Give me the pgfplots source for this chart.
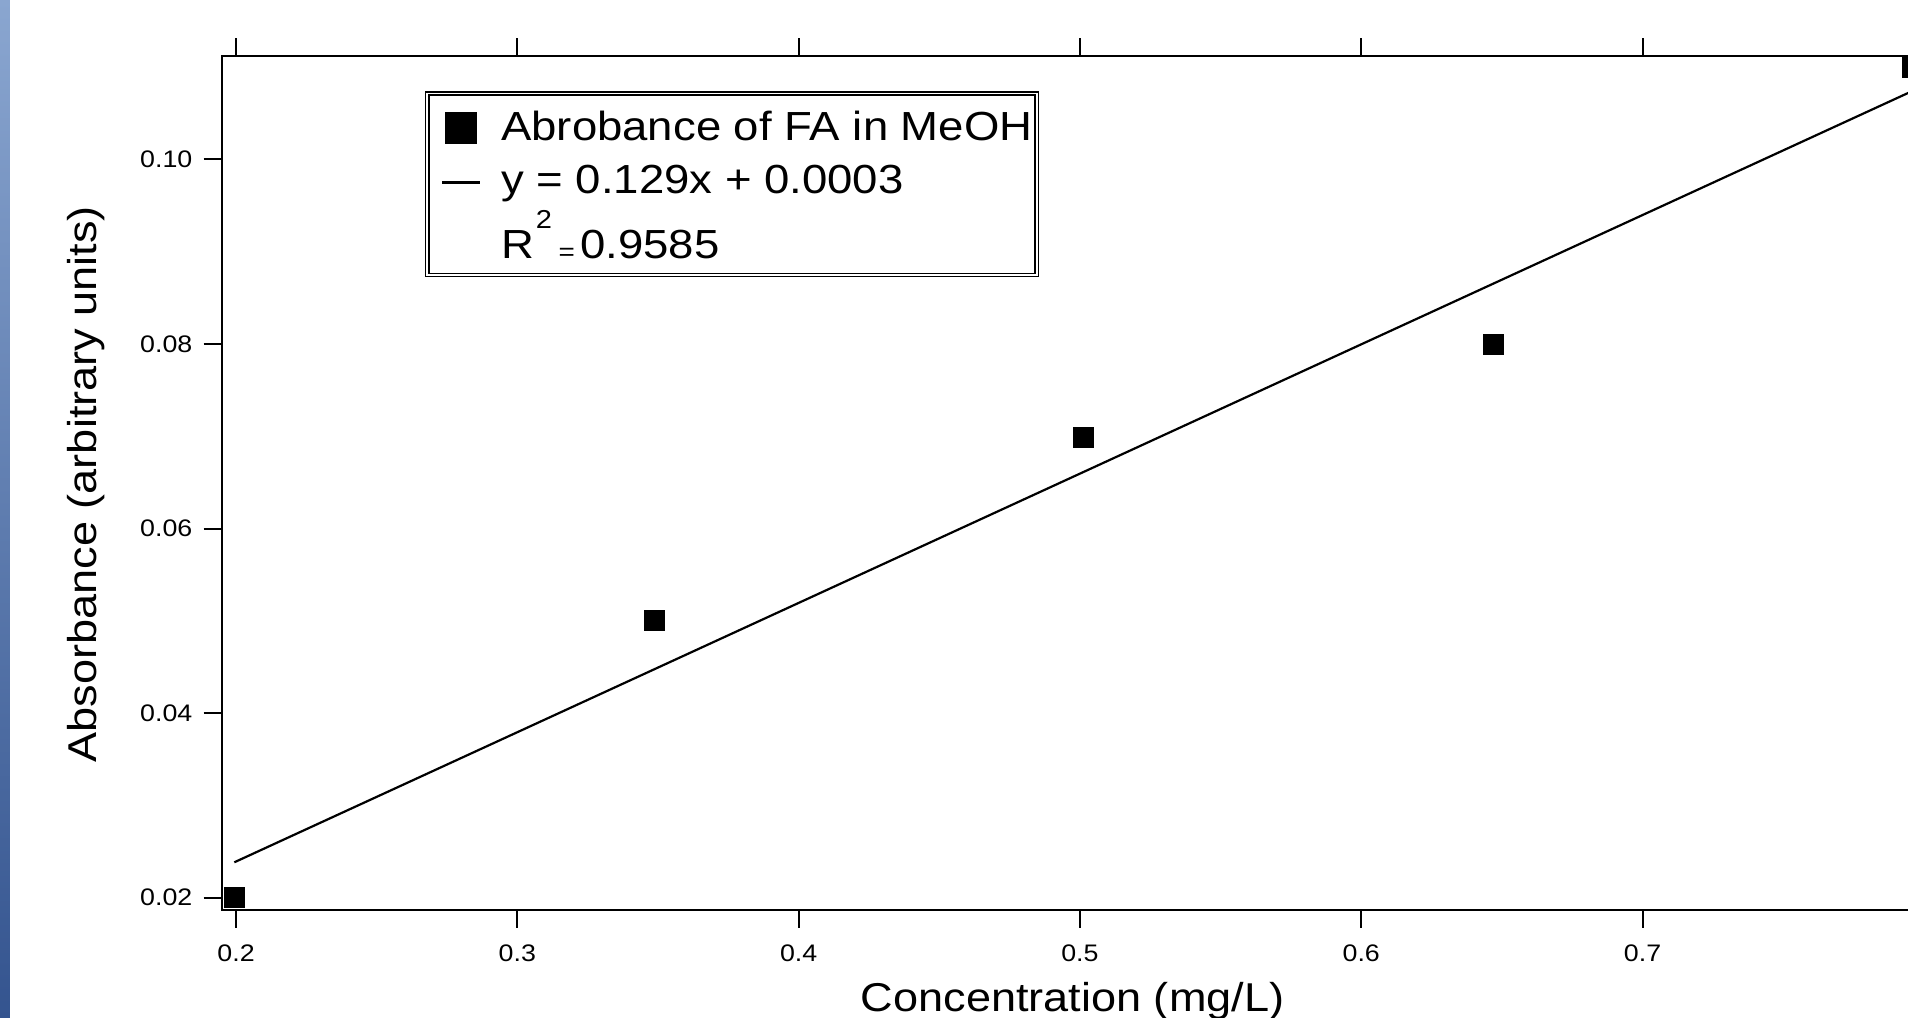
\documentclass[border=0pt]{standalone}
\usepackage{fontspec}
\setmainfont{Liberation Sans}[FakeStretch=1.12]
\usepackage{pgfplots}
\pgfplotsset{compat=1.18}
\definecolor{stripTop}{RGB}{138,166,208}
\definecolor{stripBot}{RGB}{52,84,143}
\newcommand{\legstrut}[2]{\rule[-#2]{0pt}{\dimexpr#1+#2\relax}}
\begin{document}
\begin{tikzpicture}
\begin{axis}[
  at={(0,0)}, anchor=south west,
  scale only axis, width=879.2bp, height=427bp,
  xmin=0.1949, xmax=0.82, ymin=0.01867, ymax=0.1112,
  xtick={0.2,0.3,0.4,0.5,0.6,0.7},
  xticklabels={0.2,0.3,0.4,0.5,0.6,0.7},
  ytick={0.02,0.04,0.06,0.08,0.10},
  yticklabels={0.02,0.04,0.06,0.08,0.10},
  /pgf/number format/assume math mode=true,
  tick align=outside, xtick pos=both, ytick pos=left, xticklabel pos=lower,
  major tick length=9bp,
  tick style={black, line width=1bp},
  axis line style={black, line width=1.1bp},
  tick label style={font=\fontsize{12}{14}\selectfont},
  xticklabel style={anchor=base, inner sep=0pt, yshift=-16.85bp},
  yticklabel style={anchor=east, inner sep=0pt, xshift=-5.5bp},
  xlabel={Concentration (mg/L)},
  ylabel={Absorbance (arbitrary units)},
  label style={font=\fontsize{20.2}{24}\selectfont},
  xlabel style={at={([yshift=-50.85bp]rel axis cs:0.4839,0)}, anchor=base},
  ylabel style={at={([xshift=-62.35bp]rel axis cs:0,0.4988)}, anchor=base, rotate=0},
  legend style={at={(rel axis cs:0.12454,0.95585)}, anchor=north west, draw=none, fill=none,
    inner sep=0pt, row sep=0pt, column sep=9.85bp,
    font=\fontsize{20.4}{24}\selectfont,
    nodes={inner sep=0pt, anchor=base west}},
]
\addplot[only marks, mark=square*, mark size=5bp, mark options={draw=none, fill=black},
  legend image code/.code={\path (0bp,0bp) (18.8bp,0bp);
    \fill[black] (1.65bp,-1.25bp) rectangle (17.15bp,14.25bp);}]
  coordinates {(0.1993,0.0200) (0.3488,0.0500) (0.5011,0.0699) (0.6469,0.0799) (0.7960,0.1100)};
\addlegendentry{\legstrut{23.15bp}{6bp}Abrobance of FA in MeOH}
\addplot[black, line width=1.1bp, no marks,
  legend image code/.code={\path (0bp,0bp) (18.8bp,0bp);
    \draw[black, line width=1.4bp] (0bp,5.5bp) -- (18.8bp,5.5bp);}]
  coordinates {(0.1994,0.02384) (0.8300,0.11218)};
\addlegendentry{\legstrut{25bp}{6bp}y = 0.129x + 0.0003}
\addlegendimage{legend image code/.code={\path (0bp,0bp) (18.8bp,0bp);}}
\addlegendentry{\legstrut{31bp}{8bp}R\hspace{0.85bp}\raisebox{15bp}{\fontsize{13}{15}\selectfont 2}\hspace{3.4bp}\raisebox{-1bp}{\fontsize{12.5}{14}\selectfont =}\hspace{2.65bp}0.9585}
\end{axis}
\draw[black, line width=0.75bp, double=white, double distance=0.8bp]
  (102.75bp,408.15bp) rectangle (407.5bp,317.5bp);
\shade[top color=stripTop, bottom color=stripBot] (-110.85bp,-54bp) rectangle (-105.85bp,455bp);
\pgfresetboundingbox
\path[use as bounding box] (-110.85bp,-54bp) rectangle (843.15bp,455bp);
\end{tikzpicture}
\end{document}
